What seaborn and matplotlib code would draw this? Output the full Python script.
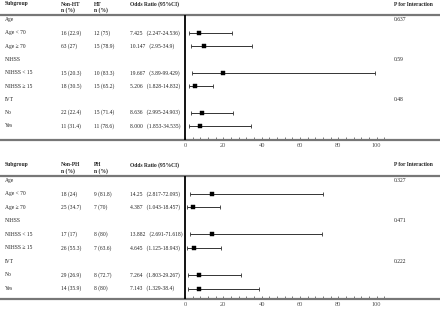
import numpy as np
import pandas as pd
import seaborn as sns
import matplotlib.pyplot as plt
import matplotlib.transforms as mtransforms

# -----------------------------
# data
# -----------------------------
rows = ["Age", "Age < 70", "Age \u2265 70", "NIHSS", "NIHSS < 15", "NIHSS \u2265 15", "IVT", "No", "Yes"]

ht_non = ["", "16 (22.9)", "63 (27)", "", "15 (20.3)", "18 (30.5)", "", "22 (22.4)", "11 (31.4)"]
ht_yes = ["", "12 (75)", "15 (78.9)", "", "10 (83.3)", "15 (65.2)", "", "15 (71.4)", "11 (78.6)"]
ht_or = [np.nan, 7.425, 10.147, np.nan, 19.667, 5.206, np.nan, 8.636, 8.000]
ht_lo = [np.nan, 2.247, 2.95, np.nan, 3.89, 1.828, np.nan, 2.995, 1.853]
ht_hi = [np.nan, 24.536, 34.9, np.nan, 99.429, 14.832, np.nan, 24.903, 34.535]
ht_or_txt = ["", "7.425", "10.147", "", "19.667", "5.206", "", "8.636", "8.000"]
ht_ci_txt = ["", "(2.247-24.536)", "(2.95-34.9)", "", "(3.89-99.429)", "(1.828-14.832)",
             "", "(2.995-24.903)", "(1.853-34.535)"]
ht_p = ["0.637", "", "", "0.59", "", "", "0.48", "", ""]

ph_non = ["", "18 (24)", "25 (34.7)", "", "17 (17)", "26 (55.3)", "", "29 (26.9)", "14 (35.9)"]
ph_yes = ["", "9 (81.8)", "7 (70)", "", "8 (80)", "7 (63.6)", "", "8 (72.7)", "8 (80)"]
ph_or = [np.nan, 14.25, 4.387, np.nan, 13.882, 4.645, np.nan, 7.264, 7.143]
ph_lo = [np.nan, 2.817, 1.043, np.nan, 2.691, 1.125, np.nan, 1.803, 1.329]
ph_hi = [np.nan, 72.095, 18.457, np.nan, 71.618, 18.943, np.nan, 29.267, 38.4]
ph_or_txt = ["", "14.25", "4.387", "", "13.882", "4.645", "", "7.264", "7.143"]
ph_ci_txt = ["", "(2.817-72.095)", "(1.043-18.457)", "", "(2.691-71.618)", "(1.125-18.943)",
             "", "(1.803-29.267)", "(1.329-38.4)"]
ph_p = ["0.327", "", "", "0.471", "", "", "0.222", "", ""]

major_ticks = [0, 20, 40, 60, 80, 100]
minor_ticks = list(range(0, 105, 4))

sns.set_theme(style="white")
plt.rcParams['font.family'] = ['Liberation Serif', 'DejaVu Serif']

W, H = 440, 310
fig = plt.figure(figsize=(4.4, 3.1), dpi=100)

FS = 4.0
TXT = "#222222"
PX_PER_UNIT = 38.3 / 20
X0 = 185  # pixel of OR = 0


def draw_panel(top_px, bot_px, first_px, step_px, labels, non, yes, orv, lo, hi,
               or_txt, ci_txt, pvals, lab_non, lab_yes):
    ax = fig.add_axes([0, 1 - bot_px / H, 1, (bot_px - top_px) / H])
    ax.set_facecolor("none")
    ax.set_xlim(-X0 / PX_PER_UNIT, (W - X0) / PX_PER_UNIT)
    ax.set_ylim((bot_px - first_px) / step_px, (top_px - first_px) / step_px)

    df = pd.DataFrame({"row": np.arange(len(labels)), "or": orv, "lo": lo, "hi": hi}).dropna()
    ax.errorbar(df["or"], df["row"], xerr=[df["or"] - df["lo"], df["hi"] - df["or"]],
                fmt="none", ecolor="#333333", elinewidth=0.7, capsize=1.4, capthick=0.6, zorder=2)
    sns.scatterplot(data=df, x="or", y="row", marker="s", s=5, color="black",
                    edgecolor="black", linewidth=0.3, ax=ax, zorder=3, legend=False)
    ax.set_xlabel("")
    ax.set_ylabel("")

    ax.axvline(0, color="black", lw=1.3, zorder=4)
    for side in ["left", "right"]:
        ax.spines[side].set_visible(False)
    for side in ["top", "bottom"]:
        ax.spines[side].set_color("#777777")
        ax.spines[side].set_linewidth(1.6)
    ax.set_yticks([])
    ax.set_xticks(major_ticks)
    ax.set_xticks(minor_ticks, minor=True)
    ax.set_xticklabels([str(t) for t in major_ticks])
    ax.tick_params(axis="x", which="both", direction="in", length=2, width=0.5,
                   color="#444444", bottom=True, labelsize=4.6, labelcolor="#555555", pad=2)

    tr = mtransforms.blended_transform_factory(ax.transAxes, ax.transData)
    kw = dict(transform=tr, fontsize=FS, color=TXT, va="center", clip_on=False)
    for i in range(len(labels)):
        ax.text(5 / W, i, labels[i], **kw)
        ax.text(61 / W, i, non[i], **kw)
        ax.text(94 / W, i, yes[i], **kw)
        if or_txt[i]:
            ax.text(130 / W, i, or_txt[i] + "   " + ci_txt[i], **kw)
        ax.text(394 / W, i, pvals[i], **kw)

    # header
    y1 = (top_px - 11 - first_px) / step_px
    y2 = (top_px - 5 - first_px) / step_px
    hk = dict(transform=tr, fontsize=FS, color=TXT, va="center", fontweight="bold", clip_on=False)
    ax.text(5 / W, y1, "Subgroup", **hk)
    ax.text(61 / W, y1, lab_non, **hk)
    ax.text(61 / W, y2, "n (%)", **hk)
    ax.text(94 / W, y1, lab_yes, **hk)
    ax.text(94 / W, y2, "n (%)", **hk)
    ax.text(130 / W, y1, "Odds Ratio (95%CI)", **hk)
    ax.text(394 / W, y1, "P for Interaction", **hk)
    return ax


draw_panel(15, 140, 19.5, 13.3, rows, ht_non, ht_yes, ht_or, ht_lo, ht_hi,
           ht_or_txt, ht_ci_txt, ht_p, "Non-HT", "HT")
draw_panel(176, 299, 180.5, 13.5, rows, ph_non, ph_yes, ph_or, ph_lo, ph_hi,
           ph_or_txt, ph_ci_txt, ph_p, "Non-PH", "PH")

fig.savefig("out.png", dpi=100)
